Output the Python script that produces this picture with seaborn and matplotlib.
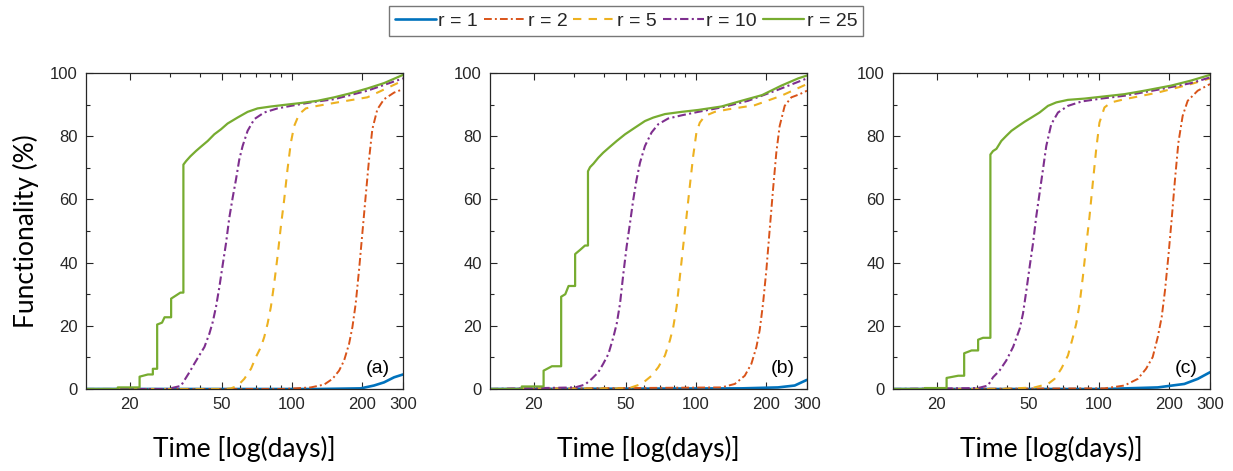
import numpy as np
import pandas as pd
import matplotlib
matplotlib.use("Agg")
import matplotlib.pyplot as plt
import matplotlib.ticker as mticker
import seaborn as sns

sns.set_theme(style="ticks")
plt.rcParams['font.family'] = ['Liberation Sans', 'DejaVu Sans']

# ---------------- data (time in days, functionality in %) ----------------
series_labels = ["r = 1", "r = 2", "r = 5", "r = 10", "r = 25"]
panel_tags = ["(a)", "(b)", "(c)"]

# panel (a)
a_r1_t = [13, 128.6, 197.3, 225.1, 248.6, 274.6, 300]
a_r1_f = [0, 0, 0.2, 1.1, 2.1, 3.7, 4.6]
a_r2_t = [13, 92.5, 120.4, 137.4, 149.2, 159.3, 167.4, 175.9, 181.8, 187.8, 194.1, 200.6, 207.3, 214.3, 221.4, 232.7, 248.6, 274.6, 300]
a_r2_f = [0, 0, 0.5, 1.4, 3.2, 5.8, 9.0, 14.3, 19.6, 27.0, 37.6, 49.3, 61.0, 72.6, 82.2, 88.5, 91.7, 93.8, 94.9]
a_r5_t = [13, 51.2, 54.6, 58.3, 62.3, 66.6, 69.9, 73.5, 75.9, 78.5, 81.1, 83.8, 86.6, 89.5, 92.5, 95.6, 98.8, 102.1, 107.3, 114.6, 128.6, 156.7, 210.8, 300]
a_r5_f = [0, 0, 0.2, 1.0, 3.2, 6.4, 10.1, 13.3, 16.4, 20.7, 26.0, 33.4, 41.9, 51.4, 59.9, 69.5, 77.9, 83.2, 87.0, 88.8, 89.6, 90.7, 92.3, 97.6]
a_r10_t = [13, 29.2, 33.3, 34.4, 36.2, 38.0, 39.9, 42.0, 44.1, 45.6, 47.1, 48.7, 50.3, 52.0, 53.7, 55.5, 57.4, 59.3, 61.3, 64.4, 68.8, 75.9, 86.6, 98.8, 120.4, 151.7, 210.8, 300]
a_r10_f = [0, 0, 1.0, 2.7, 5.3, 8.0, 10.6, 13.3, 17.5, 21.2, 26.0, 32.3, 39.2, 46.1, 54.1, 60.4, 66.3, 72.6, 76.9, 81.7, 85.4, 87.5, 88.8, 89.6, 90.7, 91.7, 94.4, 98.3]
a_r25_t = [13, 17.8, 17.8, 22.1, 22.1, 24.0, 25.2, 25.2, 26.3, 26.3, 27.6, 28.3, 30.2, 30.2, 31.7, 33.1, 34.1, 34.1,
           35.0, 36.5, 38.6, 40.6, 43.4, 46.3, 49.5, 52.8, 58.3, 64.4, 71.1, 81.1, 92.5, 109.1, 128.6, 151.7, 178.8, 210.8, 248.6, 275, 300]
a_r25_f = [0, 0, 0.5, 0.5, 3.9, 4.6, 4.6, 6.4, 6.4, 20.4, 21.0, 22.7, 22.7, 28.6, 29.6, 30.5, 30.5, 71.0,
           72.1, 73.6, 75.3, 76.7, 78.5, 80.6, 82.2, 84.0, 85.9, 87.7, 88.8, 89.4, 89.9, 90.5, 91.2, 92.3, 93.6, 95.1, 96.8, 98.2, 99.4]

# panel (b)
b_r1_t = [13, 156.7, 225.1, 265.6, 300]
b_r1_f = [0, 0.2, 0.5, 1.1, 2.9]
b_r2_t = [13, 128.6, 146.8, 162.0, 173.0, 181.8, 187.8, 194.1, 200.6, 207.3, 214.3, 221.4, 228.8, 240.5, 257.0, 279.2, 300]
b_r2_f = [0, 0.5, 1.6, 4.2, 8.0, 13.3, 18.6, 27.0, 37.6, 50.4, 63.1, 74.8, 83.2, 89.6, 92.3, 93.3, 94.4]
b_r5_t = [13, 51.2, 58.3, 64.4, 68.8, 73.5, 77.2, 79.8, 82.5, 85.2, 88.0, 91.0, 94.0, 97.2, 100.4, 103.8, 109.1, 120.4, 137.4, 178.8, 232.7, 300]
b_r5_f = [0, 0.2, 1.6, 4.2, 6.9, 10.6, 15.4, 19.6, 26.0, 35.5, 45.1, 54.6, 64.2, 73.7, 81.2, 84.3, 86.4, 87.7, 88.5, 89.8, 92.8, 96.5]
b_r10_t = [13, 30.2, 33.3, 35.6, 38.0, 39.9, 42.0, 44.1, 45.6, 47.1, 48.7, 50.3, 52.0, 53.7, 55.5, 57.4, 60.3, 64.4, 68.8, 75.9, 86.6, 102.1, 128.6, 167.4, 225.1, 300]
b_r10_f = [0, 0.5, 1.4, 3.2, 5.3, 8.0, 11.1, 16.4, 20.7, 27.0, 36.6, 45.1, 52.5, 59.9, 66.3, 71.6, 76.9, 81.2, 83.8, 85.6, 86.6, 87.7, 89.1, 91.2, 94.7, 98.3]
b_r25_t = [13, 17.8, 17.8, 22.1, 22.1, 24.0, 26.3, 26.3, 27.4, 28.3, 30.2, 30.2, 31.7, 33.3, 34.3, 34.3,
           35.0, 36.2, 38.0, 39.9, 42.7, 45.6, 49.5, 54.6, 60.3, 65.5, 73.5, 86.6, 102.1, 128.6, 156.7, 192.2, 232.7, 275, 300]
b_r25_f = [0, 0, 0.8, 0.8, 5.8, 7.2, 7.2, 29.2, 30.0, 32.6, 32.6, 42.7, 44.0, 45.4, 45.4, 68.9,
           70.2, 71.3, 73.2, 74.8, 76.7, 78.5, 80.6, 82.7, 84.8, 85.9, 87.0, 87.7, 88.3, 89.4, 91.2, 93.0, 96.0, 98.3, 99.2]

# panel (c)
c_r1_t = [13, 105.5, 178.8, 232.7, 265.6, 300]
c_r1_f = [0, 0, 0.5, 1.6, 3.2, 5.3]
c_r2_t = [13, 105.5, 128.6, 146.8, 159.3, 170.1, 178.8, 186.0, 192.2, 198.6, 205.2, 212.1, 219.3, 228.8, 240.5, 265.6, 300]
c_r2_f = [0, 0.2, 1.1, 3.2, 6.4, 10.1, 16.4, 22.8, 31.3, 41.9, 53.6, 66.3, 77.9, 86.4, 91.2, 94.4, 96.5]
c_r5_t = [13, 38.0, 52.8, 60.3, 64.4, 68.8, 73.5, 77.2, 79.8, 82.5, 85.2, 88.0, 91.0, 94.0, 97.2, 100.4, 105.5, 112.8, 128.6, 178.8, 248.6, 300]
c_r5_f = [0, 0, 0.5, 1.6, 3.2, 6.4, 10.6, 16.4, 20.7, 27.0, 35.5, 45.1, 54.6, 65.2, 75.8, 84.3, 89.1, 90.7, 91.7, 93.8, 96.5, 98.3]
c_r10_t = [13, 30.2, 33.3, 35.0, 37.3, 39.9, 42.7, 45.6, 47.1, 48.7, 50.3, 52.0, 53.7, 55.5, 57.4, 59.3, 62.3, 66.6, 73.5, 84.3, 102.1, 128.6, 178.8, 248.6, 300]
c_r10_f = [0, 0.3, 1.1, 3.7, 5.8, 9.0, 13.3, 19.1, 23.9, 31.2, 38.7, 46.1, 54.6, 62.0, 69.5, 76.9, 83.8, 87.5, 89.6, 91.0, 91.9, 92.8, 94.7, 96.8, 98.6]
c_r25_t = [13, 17.8, 17.8, 22.1, 22.1, 24.8, 26.3, 26.3, 28.3, 30.2, 30.2, 31.7, 34.1, 34.1,
           35.0, 36.2, 38.0, 39.9, 42.0, 44.9, 47.9, 51.2, 55.5, 60.3, 65.5, 73.5, 86.6, 105.5, 128.6, 156.7, 204.0, 248.6, 300]
c_r25_f = [0, 0, 0.3, 0.3, 3.5, 4.2, 4.2, 11.3, 12.2, 12.2, 15.6, 16.2, 16.2, 74.2,
           75.3, 76.0, 78.5, 80.1, 81.7, 83.2, 84.6, 85.9, 87.5, 89.6, 90.7, 91.5, 91.9, 92.6, 93.3, 94.4, 96.0, 97.6, 99.4]

panels = [
    [(a_r1_t, a_r1_f), (a_r2_t, a_r2_f), (a_r5_t, a_r5_f), (a_r10_t, a_r10_f), (a_r25_t, a_r25_f)],
    [(b_r1_t, b_r1_f), (b_r2_t, b_r2_f), (b_r5_t, b_r5_f), (b_r10_t, b_r10_f), (b_r25_t, b_r25_f)],
    [(c_r1_t, c_r1_f), (c_r2_t, c_r2_f), (c_r5_t, c_r5_f), (c_r10_t, c_r10_f), (c_r25_t, c_r25_f)],
]

x_ticks = [20, 50, 100, 200, 300]
y_ticks = [0, 20, 40, 60, 80, 100]

# ---------------- styles ----------------
colors = ["#0072BD", "#D95319", "#EDB120", "#7E2F8E", "#77AC30"]
styles = ["-", (0, (4, 1.6, 1, 1.6)), (0, (4, 3.5)), (0, (4, 1.6, 1, 1.6)), "-"]
widths = [1.9, 1.4, 1.5, 1.5, 1.6]

fig = plt.figure(figsize=(12.33, 4.71), dpi=100)
lefts = [86 / 1233, 490 / 1233, 893 / 1233]
axes = [fig.add_axes([l, 1 - 389 / 471, 317 / 1233, 316 / 471]) for l in lefts]

dark = "#262626"
tick_font = "Liberation Sans"
label_font = ["Lato", "DejaVu Sans"]
for ax, data, tag in zip(axes, panels, panel_tags):
    for (t, f), lab, c, ls, lw in zip(data, series_labels, colors, styles, widths):
        df = pd.DataFrame({"t": t, "f": f})
        sns.lineplot(data=df, x="t", y="f", ax=ax, color=c, linestyle=ls, linewidth=lw,
                     estimator=None, sort=False, label=lab)
    ax.set_xscale("log")
    ax.set_xlim(13, 300)
    ax.set_ylim(0, 100)
    ax.set_xticks(x_ticks)
    ax.xaxis.set_major_formatter(mticker.FixedFormatter([str(v) for v in x_ticks]))
    ax.xaxis.set_minor_locator(mticker.LogLocator(base=10, subs=np.arange(2, 10)))
    ax.xaxis.set_minor_formatter(mticker.NullFormatter())
    ax.set_yticks(y_ticks)
    ax.yaxis.set_minor_locator(mticker.MultipleLocator(10))
    ax.tick_params(which="both", direction="in", top=True, right=True, colors=dark,
                   labelsize=12, width=0.8)
    ax.tick_params(which="major", length=5, pad=6)
    ax.tick_params(which="minor", length=3)
    for lbl in ax.get_xticklabels() + ax.get_yticklabels():
        lbl.set_fontfamily(tick_font)
    for s in ax.spines.values():
        s.set_color(dark)
        s.set_linewidth(0.9)
    ax.set_xlabel("Time [log(days)]", fontsize=19, family=label_font, labelpad=17,
                  color="black")
    ax.set_ylabel("")
    ax.text(0.96, 0.065, tag, transform=ax.transAxes, ha="right", va="center",
            fontsize=14, color="black", family=tick_font)
    ax.get_legend().remove()

axes[0].set_ylabel("Functionality (%)", fontsize=19, family=label_font,
                   labelpad=8, color="black")

handles, labels = axes[0].get_legend_handles_labels()
leg = fig.legend(handles, labels, loc="center", bbox_to_anchor=(626 / 1233, 1 - 21 / 471),
                 ncol=5, frameon=True, fancybox=False, handlelength=2.1,
                 handletextpad=0.15, columnspacing=0.3, borderpad=0.3, borderaxespad=0,
                 prop={"family": tick_font, "size": 14})
leg.get_frame().set_edgecolor("#555555")
leg.get_frame().set_linewidth(1.0)

fig.savefig("out.png", dpi=100)
